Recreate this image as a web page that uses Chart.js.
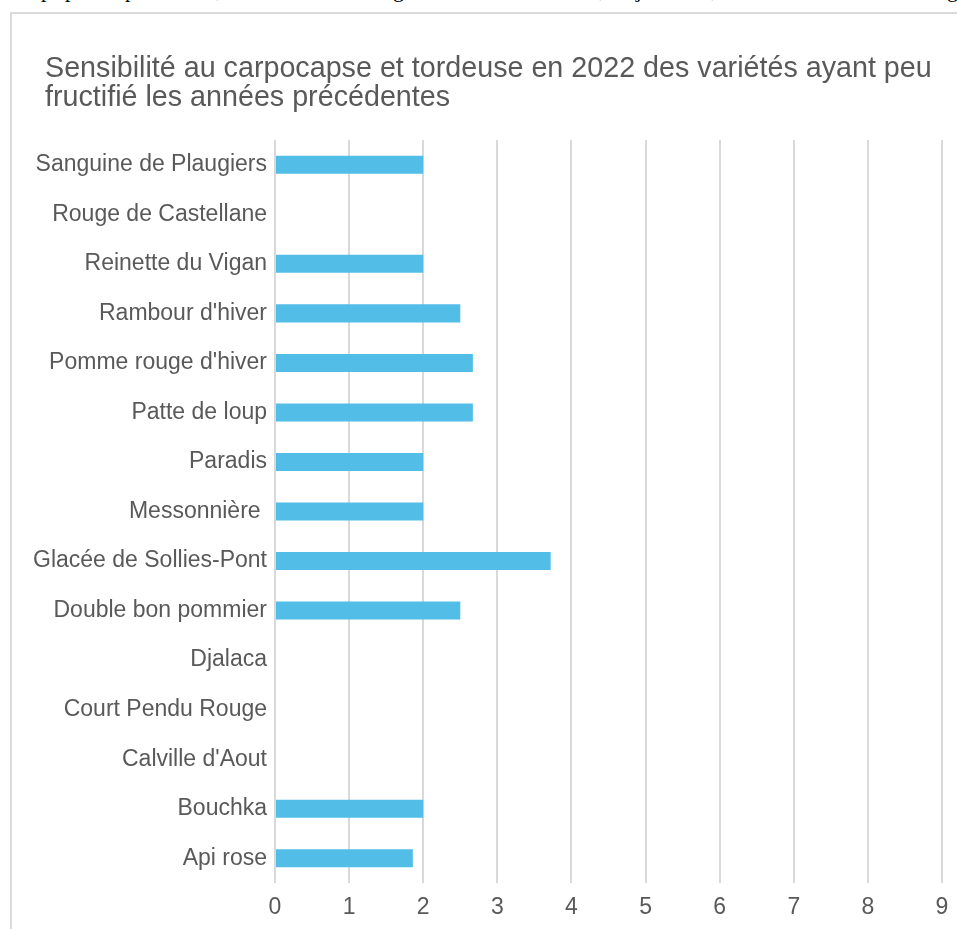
<!DOCTYPE html>
<html lang="fr">
<head>
<meta charset="utf-8">
<title>Sensibilité au carpocapse et tordeuse en 2022</title>
<script src="https://cdn.jsdelivr.net/npm/chart.js@4/dist/chart.umd.min.js"></script>
<style>
  html, body { margin: 0; padding: 0; background: #fff; overflow: hidden; }
  body { width: 957px; height: 929px; position: relative; }
  /* bottom of the line of body text sitting just above the chart */
  .texte { position: absolute; top: -21px; left: 0; width: 957px; height: 22px;
           font: 22px "Liberation Serif", "Times New Roman", serif; line-height: 22px; color: #000; }
  .texte span { position: absolute; top: 0; }
  .cadre { position: absolute; left: 10px; top: 12px; width: 960px; height: 930px;
           border: 2px solid #dadada; box-sizing: content-box; }
  .cadre canvas { position: absolute; left: 0; top: 0; }
  .titre { position: absolute; left: 33px; top: 39px; margin: 0; white-space: nowrap;
           font: 28.7px "Liberation Sans", Arial, sans-serif; line-height: 29px; color: #595959; }
</style>
</head>
<body>
<div class="texte">
  <span style="left:41px">p</span>
  <span style="left:65px">p</span>
  <span style="left:125px">p</span>
  <span style="left:216px">,</span>
  <span style="left:393px">g</span>
  <span style="left:599px">,</span>
  <span style="left:636px">j</span>
  <span style="left:711px">,</span>
  <span style="left:947px">g</span>
</div>
<div class="cadre">
  <canvas id="sensibiliteChart" width="945" height="915"></canvas>
  <div class="titre" id="titre"></div>
</div>
<script>
// Varieties (alphabetical, drawn bottom-up) and their 2022 sensitivity score
const varietes = [
    'Api rose', 'Bouchka', "Calville d'Aout", 'Court Pendu Rouge', 'Djalaca',
    'Double bon pommier', 'Glacée de Sollies-Pont', 'Messonnière ', 'Paradis',
    'Patte de loup', "Pomme rouge d'hiver", "Rambour d'hiver", 'Reinette du Vigan',
    'Rouge de Castellane', 'Sanguine de Plaugiers'
];
const sensibilite = [1.86, 2, null, null, null, 2.5, 3.72, 2, 2, 2.67, 2.67, 2.5, 2, null, 2];
const graduations = [0, 1, 2, 3, 4, 5, 6, 7, 8, 9];
const titre = [
    'Sensibilité au carpocapse et tordeuse en 2022 des variétés ayant peu',
    'fructifié les années précédentes'
];

const gris = '#595959';
const police = '"Liberation Sans", Arial, sans-serif';

function createSensibiliteChart() {
    // two-line title above the plot
    const titreEl = document.getElementById('titre');
    titre.forEach(ligne => {
        const div = document.createElement('div');
        div.textContent = ligne;
        titreEl.appendChild(div);
    });

    const ctx = document.getElementById('sensibiliteChart').getContext('2d');
    new Chart(ctx, {
        type: 'bar',
        data: {
            labels: varietes,
            datasets: [{
                label: 'Sensibilité',
                data: sensibilite,
                backgroundColor: '#52BEE8',
                borderWidth: 0,
                categoryPercentage: 1,
                barPercentage: 0.364
            }]
        },
        options: {
            indexAxis: 'y',
            responsive: false,
            animation: false,
            devicePixelRatio: 1,
            layout: {
                padding: { left: 0, right: 15, top: 126, bottom: 0 }
            },
            plugins: {
                legend: { display: false },
                tooltip: { enabled: false },
                title: { display: false }
            },
            scales: {
                x: {
                    position: 'bottom',
                    min: graduations[0],
                    max: graduations[graduations.length - 1],
                    afterBuildTicks: scale => {
                        scale.ticks = graduations.map(v => ({ value: v }));
                    },
                    afterFit: scale => {
                        scale.height = 46;
                        scale.paddingLeft = 0;
                        scale.paddingRight = 0;
                    },
                    grid: { color: '#d9d9d9', lineWidth: 2, drawTicks: false },
                    border: { display: false },
                    ticks: {
                        color: gris,
                        padding: 11,
                        font: { family: police, size: 23 }
                    }
                },
                y: {
                    reverse: true,
                    afterFit: scale => { scale.width = 263; },
                    grid: { display: false, drawTicks: false },
                    border: { display: false },
                    ticks: {
                        color: gris,
                        padding: 8,
                        font: { family: police, size: 23 }
                    }
                }
            }
        }
    });
}

document.addEventListener('DOMContentLoaded', createSensibiliteChart);
</script>
</body>
</html>
